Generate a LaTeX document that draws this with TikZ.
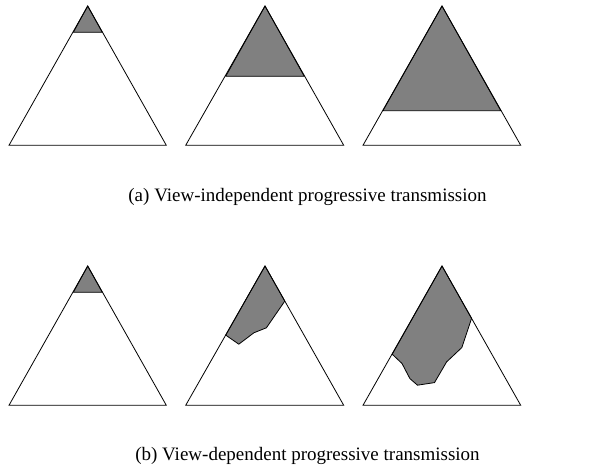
\documentclass[tikz,border=0pt]{standalone}
\usepackage{fontspec}
\setmainfont{Liberation Serif}
\begin{document}
\begin{tikzpicture}[x=1pt,y=-1pt,
  tri/.style={draw=black,line width=0.8pt,line join=miter},
  shade/.style={fill=gray50,draw=black,line width=0.8pt,line join=round},
  caption/.style={font=\fontsize{19}{22}\selectfont,inner sep=0pt}]
\definecolor{gray50}{RGB}{128,128,128}
\useasboundingbox (0,0) rectangle (616,470);
% ---- top row ----
\filldraw[shade] (87.7,6) -- (73.3,32.3) -- (102.3,32.3) -- cycle;
\draw[tri] (87.7,6) -- (9,145.3) -- (166.3,145.3) -- cycle;
\filldraw[shade] (265,6) -- (225.7,76.3) -- (304.3,76.3) -- cycle;
\draw[tri] (265,6) -- (185.7,145.3) -- (343.7,145.3) -- cycle;
\filldraw[shade] (442,6) -- (382.9,110.7) -- (500.8,110.7) -- cycle;
\draw[tri] (442,6) -- (363,145.3) -- (520.7,145.3) -- cycle;
\node[caption] (capa) at (307.5,197) {(a) View-independent progressive transmission};
% ---- bottom row ----
\filldraw[shade] (87.7,266) -- (73.3,292.3) -- (102.3,292.3) -- cycle;
\draw[tri] (87.7,266) -- (9,405.3) -- (166.3,405.3) -- cycle;
\filldraw[shade] (265,266) -- (225.7,335.1) -- (238.8,344.2) -- (253.9,332.8) -- (266.4,327.8) -- (284.8,301.1) -- cycle;
\draw[tri] (265,266) -- (185.7,405.3) -- (343.7,405.3) -- cycle;
\filldraw[shade] (442,266) -- (392.2,354.2) -- (402,363.5) -- (409.9,378.6) -- (417.5,385.2) -- (434.5,382.6) -- (446.6,361.9) -- (461.9,347.5) -- (471.6,318.4) -- cycle;
\draw[tri] (442,266) -- (363,405.3) -- (520.7,405.3) -- cycle;
\node[caption] (capb) at (307.5,456) {(b) View-dependent progressive transmission};
\end{tikzpicture}
\end{document}
